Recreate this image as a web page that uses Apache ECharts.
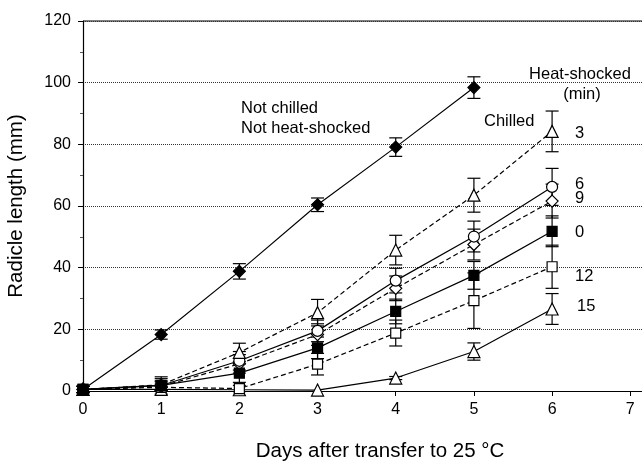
<!DOCTYPE html>
<html><head><meta charset="utf-8">
<script src="https://cdn.jsdelivr.net/npm/echarts@6/dist/echarts.min.js"></script>
<style>html,body{margin:0;padding:0;background:#fff}#c{width:642px;height:462px}</style>
</head><body><div id="c"></div>
<script>
const days = [0, 1, 2, 3, 4, 5, 6];
const xTicks = [0, 1, 2, 3, 4, 5, 6, 7];
const yTicks = [0, 20, 40, 60, 80, 100, 120];

const notChilled = [0.5, 18.3, 38.8, 60.4, 79.1, 98.4];
const notChilledErr = [1, 1.5, 2.5, 2.2, 3, 3.5];
const hs0 = [0.5, 1.8, 5.8, 14, 25.8, 37.5, 51.8];
const hs0Err = [1, 2.8, 3, 3.5, 4, 4.5, 5];
const hs3 = [0.5, 2, 12.5, 25.4, 45.7, 63.5, 84.2];
const hs3Err = [1, 2, 3, 4.3, 4.8, 5.5, 6.6];
const hs6 = [0.5, 1.8, 9.8, 19.5, 35.8, 50.1, 66.2];
const hs6Err = [1, 1.5, 3, 3.5, 4, 5, 6];
const hs9 = [0.5, 1.5, 8.8, 18.3, 33.3, 47.5, 61.6];
const hs9Err = [1, 1.5, 3, 3.5, 4, 5, 5.5];
const hs12 = [0.5, 1.2, 0.8, 8.7, 18.8, 29.3, 40.3];
const hs12Err = [1, 1, 1, 3.5, 4.2, 9, 7];
const hs15 = [0.5, 0.5, 0.4, 0.3, 4.2, 12.8, 26.6];
const hs15Err = [0, 0, 0, 0, 0.5, 2.8, 5];

const FONT = 'Liberation Sans, Arial, sans-serif';

function pts(vals) { return vals.map((v, i) => [days[i], v]); }
function errPts(vals, errs) { return vals.map((v, i) => [days[i], v - errs[i], v + errs[i]]); }

function lineSeries(name, vals, symbol, filled, dashed, size) {
  return {
    name, type: 'line', data: pts(vals), symbol, symbolSize: size || 11,
    z: 5,
    lineStyle: { color: '#000', width: 1.2, type: dashed ? [5, 3] : 'solid' },
    itemStyle: { color: filled ? '#000' : '#fff', borderColor: '#000', borderWidth: 1.2 },
    emphasis: { disabled: true }, animation: false
  };
}
function errSeries(vals, errs) {
  return {
    type: 'custom', data: errPts(vals, errs), z: 3, animation: false, silent: true,
    renderItem: function (params, api) {
      const x = api.value(0), lo = api.value(1), hi = api.value(2);
      if (hi - lo < 0.5) return null;
      const pLo = api.coord([x, lo]), pHi = api.coord([x, hi]);
      const w = 6.5;
      const st = { stroke: '#000', lineWidth: 1.2 };
      return { type: 'group', children: [
        { type: 'line', shape: { x1: pLo[0], y1: pLo[1], x2: pHi[0], y2: pHi[1] }, style: st },
        { type: 'line', shape: { x1: pLo[0] - w, y1: pLo[1], x2: pLo[0] + w, y2: pLo[1] }, style: st },
        { type: 'line', shape: { x1: pHi[0] - w, y1: pHi[1], x2: pHi[0] + w, y2: pHi[1] }, style: st }
      ]};
    }
  };
}

const chart = echarts.init(document.getElementById('c'), null, { renderer: 'canvas' });
const txt = (x, y, t, align) => ({ type: 'text', x, y, style: { text: t, font: '16.5px ' + FONT, fill: '#000', textAlign: align || 'left', textVerticalAlign: 'middle' } });

chart.setOption({
  backgroundColor: '#fff',
  animation: false,
  grid: { left: 83, right: 0, top: 21, bottom: 71, containLabel: false, outerBoundsMode: 'none' },
  xAxis: {
    type: 'value', min: 0, max: 7.15, interval: 1,
    axisLine: { show: true, lineStyle: { color: '#000', width: 1.2 } },
    axisTick: { show: true, inside: false, length: 5, lineStyle: { color: '#000' }, customValues: xTicks },
    axisLabel: { color: '#000', fontSize: 16, fontFamily: FONT, margin: 11, customValues: xTicks },
    splitLine: { show: false },
    name: 'Days after transfer to 25 °C', nameLocation: 'middle', nameGap: 50,
    nameTextStyle: { color: '#000', fontSize: 20.5, fontFamily: FONT, padding: [0, 0, 0, 35] }
  },
  yAxis: {
    type: 'value', min: 0, max: 120, interval: 20,
    axisLine: { show: true, lineStyle: { color: '#000', width: 1.2 } },
    axisTick: { show: true, inside: false, length: 5, lineStyle: { color: '#000' } },
    minorTick: { show: true, splitNumber: 2, length: 3, lineStyle: { color: '#555' } },
    axisLabel: { color: '#000', fontSize: 16, fontFamily: FONT, margin: 12, customValues: yTicks },
    splitLine: { show: true, lineStyle: { color: '#333', width: 1, type: [1, 1] } },
    name: 'Radicle length (mm)', nameLocation: 'middle', nameGap: 56,
    nameTextStyle: { color: '#000', fontSize: 20.5, fontFamily: FONT }
  },
  graphic: [
    { type: 'line', shape: { x1: 83, y1: 21, x2: 642, y2: 21 }, style: { stroke: '#000', lineWidth: 1.2 } },
    txt(241, 108, 'Not chilled'),
    txt(241, 128, 'Not heat-shocked'),
    txt(580, 74, 'Heat-shocked', 'center'),
    txt(582, 94, '(min)', 'center'),
    txt(484, 121, 'Chilled'),
    txt(575, 133, '3'),
    txt(575, 184, '6'),
    txt(575, 198, '9'),
    txt(575, 232, '0'),
    txt(575, 276, '12'),
    txt(577, 306, '15')
  ],
  series: [
    errSeries(notChilled, notChilledErr),
    errSeries(hs0, hs0Err),
    errSeries(hs3, hs3Err),
    errSeries(hs6, hs6Err),
    errSeries(hs9, hs9Err),
    errSeries(hs12, hs12Err),
    errSeries(hs15, hs15Err),
    lineSeries('Not chilled', notChilled, 'diamond', true, false, 12),
    lineSeries('15', hs15, 'triangle', false, false, 12),
    lineSeries('12', hs12, 'rect', false, true, 10),
    lineSeries('9', hs9, 'diamond', false, true, 12),
    lineSeries('6', hs6, 'circle', false, false, 11),
    lineSeries('3', hs3, 'triangle', false, true, 12),
    lineSeries('0', hs0, 'rect', true, false, 10)
  ]
});
</script>
</body></html>
